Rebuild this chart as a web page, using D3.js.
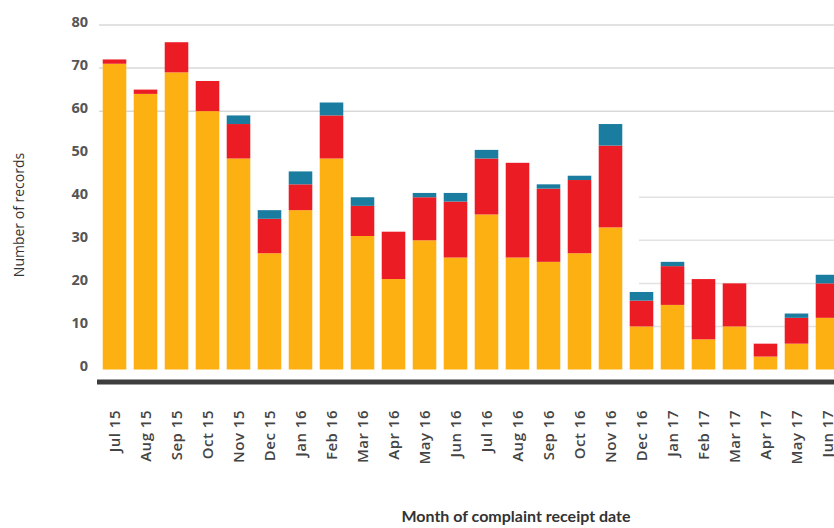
<!DOCTYPE html>
<html>
<head>
<meta charset="utf-8">
<script src="https://cdn.jsdelivr.net/npm/d3@7"></script>
<style>
  html, body { margin: 0; padding: 0; background: #fff; }
  svg { display: block; }
</style>
</head>
<body>
<svg id="chart" width="834" height="528"></svg>
<script>
const months = ["Jul 15","Aug 15","Sep 15","Oct 15","Nov 15","Dec 15","Jan 16","Feb 16","Mar 16","Apr 16","May 16","Jun 16",
                "Jul 16","Aug 16","Sep 16","Oct 16","Nov 16","Dec 16","Jan 17","Feb 17","Mar 17","Apr 17","May 17","Jun 17"];
const seriesA = [71,64,69,60,49,27,37,49,31,21,30,26,36,26,25,27,33,10,15,7,10,3,6,12]; // orange
const seriesB = [1,1,7,7,8,8,6,10,7,11,10,13,13,22,17,17,19,6,9,14,10,3,6,8];       // red
const seriesC = [0,0,0,0,2,2,3,3,2,0,1,2,2,0,1,1,5,2,1,0,0,0,1,2];                  // teal
const yTicks = [0,10,20,30,40,50,60,70,80];
const fullGrid = [60,70,80];
const partGrid = [10,20,30,40];

const colors = { a: "#FDB011", b: "#EC1C24", c: "#1A7C9E" };

const svg = d3.select("#chart");
const x = d3.scaleBand().domain(months).range([99, 99 + 31 * months.length]).paddingInner(0.24).paddingOuter(0.12);
const y = d3.scaleLinear().domain([0, 80]).range([369.5, 25]);

// gridlines
const g = svg.append("g");
g.selectAll("line.full").data(fullGrid).join("line")
  .attr("x1", 99).attr("x2", 834)
  .attr("y1", d => y(d)).attr("y2", d => y(d))
  .attr("stroke", "#d9d9d9").attr("stroke-width", 1.5);
const partStart = (x("Nov 16") + x.bandwidth() + x("Dec 16")) / 2 + 13;
g.selectAll("line.part").data(partGrid).join("line")
  .attr("x1", partStart).attr("x2", 834)
  .attr("y1", d => y(d)).attr("y2", d => y(d))
  .attr("stroke", "#e2e2e2").attr("stroke-width", 1.5);

// stacked bars
const rows = months.map((m, i) => ({ month: m, a: seriesA[i], b: seriesB[i], c: seriesC[i] }));
const stack = d3.stack().keys(["a","b","c"])(rows);
svg.append("g").selectAll("g").data(stack).join("g")
  .attr("fill", d => colors[d.key])
  .selectAll("rect").data(d => d).join("rect")
  .attr("x", d => x(d.data.month))
  .attr("width", x.bandwidth())
  .attr("y", d => y(d[1]))
  .attr("height", d => Math.max(0, y(d[0]) - y(d[1])));

// y axis labels
svg.append("g").selectAll("text").data(yTicks).join("text")
  .attr("x", 88).attr("y", d => y(d) - 2)
  .attr("text-anchor", "end").attr("dominant-baseline", "middle")
  .attr("font-family", "'Open Sans', sans-serif").attr("font-weight", "bold")
  .attr("font-size", 14.5).attr("fill", "#555")
  .text(d => d);

// baseline bar
svg.append("line").attr("x1", 97).attr("x2", 834).attr("y1", 382).attr("y2", 382)
  .attr("stroke", "#3d3d3d").attr("stroke-width", 5);

// x labels
svg.append("g").selectAll("text").data(months).join("text")
  .attr("transform", d => `translate(${x(d) + x.bandwidth() / 2 + 5},410) rotate(-90)`)
  .attr("text-anchor", "end")
  .attr("font-family", "'Open Sans', sans-serif").attr("font-weight", 600)
  .attr("font-size", 15).attr("letter-spacing", 0.5).attr("fill", "#444")
  .text(d => d);

// axis titles
svg.append("text")
  .attr("transform", "translate(24,215) rotate(-90)")
  .attr("text-anchor", "middle")
  .attr("font-family", "'Open Sans', sans-serif").attr("font-size", 14).attr("fill", "#333")
  .text("Number of records");
svg.append("text")
  .attr("x", 516).attr("y", 522)
  .attr("text-anchor", "middle")
  .attr("font-family", "Lato, sans-serif").attr("font-weight", "bold").attr("font-size", 16).attr("fill", "#333")
  .text("Month of complaint receipt date");
</script>
</body>
</html>
